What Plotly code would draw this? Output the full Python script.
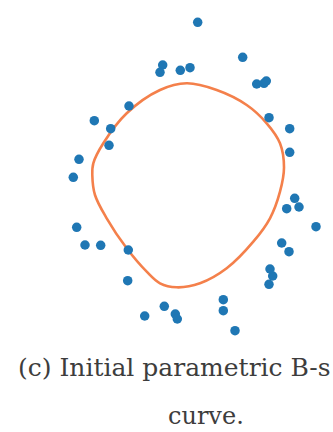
import plotly.graph_objects as go

# Scattered sample points
pts_x = [0.097, 0.547, -0.253, -0.28, -0.077, 0.02, 0.687, 0.76, 0.783, -0.59,
         -0.937, -0.773, -0.79, -1.09, 0.81, 1.017, 1.017, -1.147, -1.113, -1.03,
         -0.873, -0.597, -0.603, -0.433, -0.237, -0.127, -0.107, 0.353, 0.353, 0.47,
         0.81, 0.847, 0.82, 0.937, 1.01, 1.067, 1.11, 0.987, 1.28]
pts_y = [1.627, 1.277, 1.20, 1.127, 1.147, 1.173, 1.01, 1.017, 1.04, 0.79,
         0.643, 0.563, 0.397, 0.257, 0.673, 0.563, 0.327, 0.077, -0.423, -0.60,
         -0.603, -0.65, -0.957, -1.31, -1.213, -1.29, -1.34, -1.147, -1.257, -1.457,
         -0.993, -0.91, -0.84, -0.58, -0.667, -0.133, -0.22, -0.237, -0.417]

# Initial closed B-spline curve, sampled along its length
curve_x = [-0.013, 0.287, 0.587, 0.787, 0.92, 0.96, 0.92, 0.82, 0.653, 0.387,
           0.12, -0.113, -0.28, -0.413, -0.613, -0.813, -0.93, -0.957, -0.947,
           -0.847, -0.613, -0.28, -0.013]
curve_y = [1.017, 0.95, 0.80, 0.617, 0.417, 0.175, -0.067, -0.333, -0.567, -0.833,
           -0.983, -1.023, -0.983, -0.867, -0.633, -0.333, -0.10, 0.10, 0.217,
           0.417, 0.717, 0.95, 1.017]

caption_line1 = "(c) Initial parametric B-s"
caption_line2 = "curve."

W, H = 333, 432

fig = go.Figure()
fig.add_trace(go.Scatter(
    x=curve_x, y=curve_y, mode="lines",
    line=dict(color="#f4804b", width=2.6, shape="spline", smoothing=1.0),
    hoverinfo="skip", showlegend=False,
))
fig.add_trace(go.Scatter(
    x=pts_x, y=pts_y, mode="markers",
    marker=dict(color="#1f77b4", size=9.5, line=dict(width=0)),
    showlegend=False,
))

cap_font = dict(family="DejaVu Serif", size=24, color="#3d3d3d")
fig.add_annotation(
    text=caption_line1, xref="paper", yref="paper",
    x=16 / W, y=1 - 367 / H, xanchor="left", yanchor="middle",
    showarrow=False, font=dict(cap_font, size=25),
)
fig.add_annotation(
    text=caption_line2, xref="paper", yref="paper",
    x=206 / W, y=1 - 416 / H, xanchor="center", yanchor="middle",
    showarrow=False, font=cap_font,
)

fig.update_layout(
    width=W, height=H,
    margin=dict(l=0, r=0, t=0, b=0),
    paper_bgcolor="white", plot_bgcolor="white",
    xaxis=dict(range=[-1.88, 1.45], visible=False, fixedrange=True),
    yaxis=dict(range=[-2.47, 1.85], visible=False, fixedrange=True),
)

fig.write_html("out.html")
